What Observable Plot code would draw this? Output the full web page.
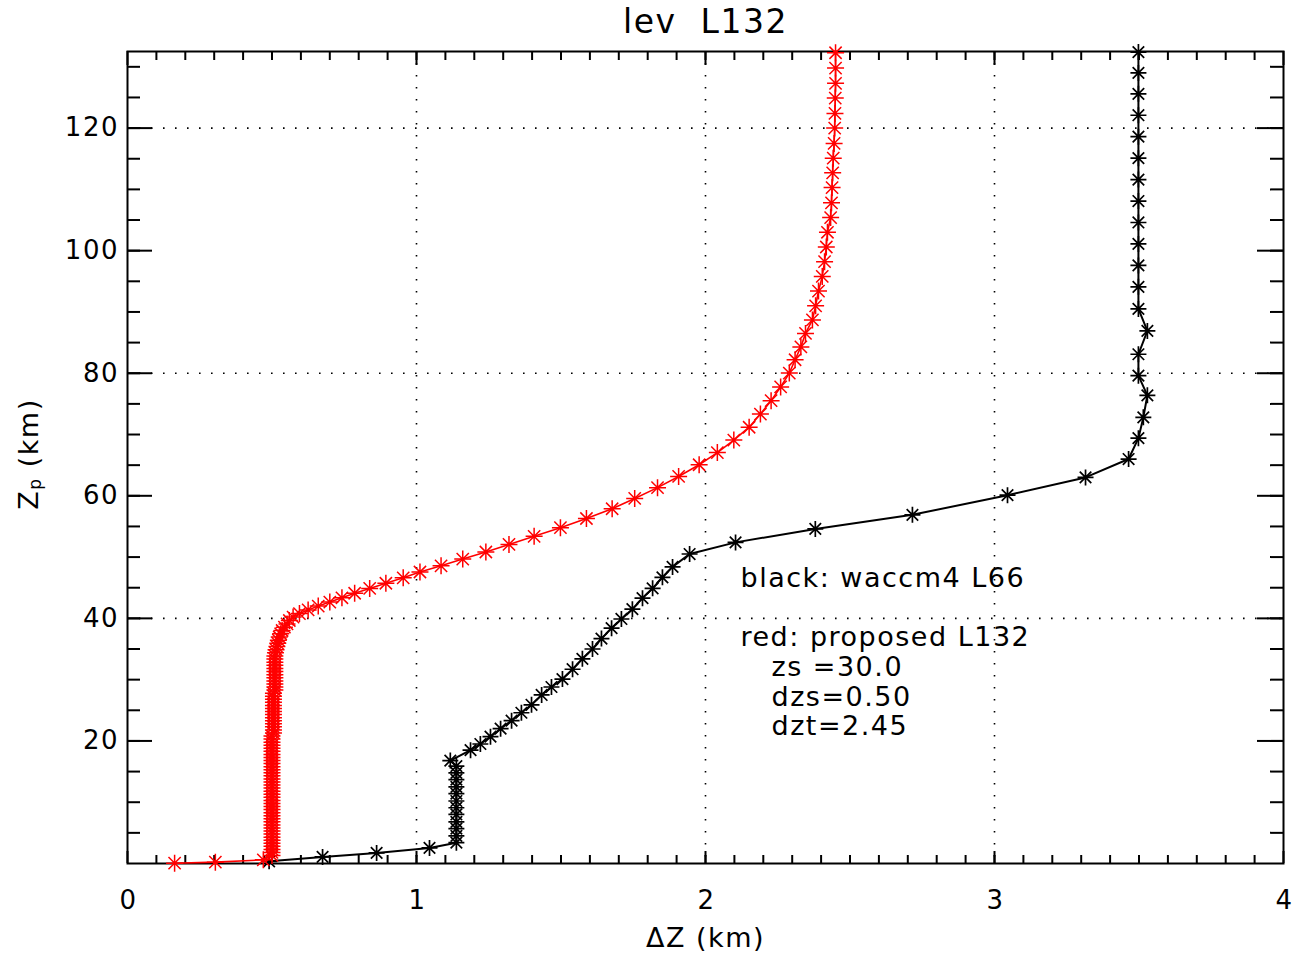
<!DOCTYPE html>
<html><head><meta charset="utf-8">
<script src="https://cdn.jsdelivr.net/npm/d3@7"></script>
<script src="https://cdn.jsdelivr.net/npm/@observablehq/plot@0.6"></script>
<style>body{margin:0;background:#fff}svg{display:block}</style>
</head><body><div id="chart"></div>
<script>
// ---- texts ----
const titleText = "lev  L132";
const xLabelText = "ΔZ (km)";
const yLabelMain = "Z";
const yLabelSub = "p";
const yLabelUnit = " (km)";
const noteLines = ["black: waccm4 L66", "red: proposed L132", "zs =30.0", "dzs=0.50", "dzt=2.45"];

// ---- ticks ----
const xTickLabels = [0, 1, 2, 3, 4];
const yTickLabels = [20, 40, 60, 80, 100, 120];
const xGridLines = [1, 2, 3];
const yGridLines = [40, 80, 120];
const yMajorTicks = [20, 40, 60, 80, 100, 120];

// ---- black: waccm4 L66 ----
const blackZ = [0.35, 1.08, 1.73, 2.54,
  3.4, 4.5, 5.7, 6.8, 8.0, 9.1, 10.2, 11.4, 12.5, 13.7, 14.8, 15.9,
  16.8,
  18.5, 19.5, 20.7, 22.0, 23.3, 24.6, 25.9, 27.5, 28.8, 30.1, 31.7, 33.4, 35.0, 36.7, 38.4, 39.9, 41.5, 43.3, 44.9, 46.7, 48.4, 50.5,
  52.4, 54.6, 56.9, 60.1, 63.0, 66.0, 69.4, 72.8, 76.4, 79.6, 83.1, 86.9, 90.5,
  94.1, 97.6, 101.1, 104.6, 108.1, 111.6, 115.1, 118.6, 122.1, 125.6, 129.0, 132.4];
const blackDZ = [0.49, 0.675, 0.862, 1.045,
  1.138, 1.138, 1.138, 1.138, 1.138, 1.138, 1.138, 1.138, 1.138, 1.138, 1.138, 1.138,
  1.117,
  1.187, 1.221, 1.256, 1.291, 1.329, 1.363, 1.398, 1.433, 1.467, 1.505, 1.540, 1.574, 1.609, 1.640, 1.675, 1.709, 1.747, 1.782, 1.817, 1.851, 1.886, 1.945,
  2.104, 2.380, 2.716, 3.045, 3.315, 3.464, 3.498, 3.515, 3.529, 3.498, 3.498, 3.529, 3.498,
  3.498, 3.498, 3.498, 3.498, 3.498, 3.498, 3.498, 3.498, 3.498, 3.498, 3.498, 3.498];

// ---- red: proposed L132 ----
const redZ = [0.05, 0.22, 0.6,
  1.3, 1.8, 2.3, 2.8, 3.3, 3.8, 4.3, 4.8, 5.3, 5.8, 6.3, 6.8, 7.3, 7.8, 8.3, 8.8, 9.3, 9.8, 10.3, 10.8,
  11.3, 11.8, 12.3, 12.8, 13.3, 13.8, 14.3, 14.8, 15.3, 15.8, 16.3, 16.8, 17.3, 17.8, 18.3, 18.8, 19.3, 19.8, 20.3, 20.8,
  21.3, 21.8, 22.3, 22.8, 23.3, 23.8, 24.3, 24.8, 25.3, 25.8, 26.3, 26.8, 27.3, 27.8,
  28.3, 28.8, 29.3, 29.8, 30.3,
  30.81, 31.32, 31.83, 32.34, 32.85, 33.36, 33.87, 34.38, 34.89, 35.40, 35.92, 36.44, 36.96, 37.49, 38.02,
  38.56, 39.10, 39.65, 40.21, 40.78, 41.38, 42.00, 42.66, 43.36, 44.10, 44.89, 45.73, 46.62, 47.57, 48.58,
  49.67, 50.83, 52.07, 53.39, 54.80, 56.30, 57.89, 59.57, 61.33, 63.16, 65.07, 67.05, 69.09, 71.19, 73.34,
  75.53, 77.76, 80.02, 82.2,
  84.3, 86.5, 88.7, 91.0, 93.4, 95.8, 98.2, 100.6, 103.0, 105.4, 107.8, 110.3, 112.7, 115.1, 117.5, 120.0,
  122.4, 124.9, 127.3, 129.8, 132.3];
const redDZ = [0.163, 0.304, 0.47,
  0.50, 0.50, 0.50, 0.50, 0.50, 0.50, 0.50, 0.50, 0.50, 0.50, 0.50, 0.50, 0.50, 0.50, 0.50, 0.50, 0.50, 0.50, 0.50, 0.50,
  0.50, 0.50, 0.50, 0.50, 0.50, 0.50, 0.50, 0.50, 0.50, 0.50, 0.50, 0.50, 0.50, 0.50, 0.50, 0.50, 0.50, 0.50, 0.50, 0.50,
  0.505, 0.505, 0.505, 0.505, 0.505, 0.505, 0.505, 0.505, 0.505, 0.505, 0.505, 0.505, 0.505, 0.505,
  0.51, 0.51, 0.51, 0.51, 0.51,
  0.51, 0.51, 0.51, 0.51, 0.51, 0.51, 0.51, 0.512, 0.514, 0.517, 0.52, 0.522, 0.525, 0.53, 0.535,
  0.543, 0.552, 0.56, 0.573, 0.595, 0.625, 0.66, 0.70, 0.742, 0.786, 0.838, 0.894, 0.954, 1.012, 1.085,
  1.16, 1.24, 1.32, 1.407, 1.498, 1.588, 1.677, 1.755, 1.834, 1.907, 1.978, 2.041, 2.098, 2.151, 2.19,
  2.227, 2.26, 2.29, 2.31,
  2.33, 2.346, 2.37, 2.381, 2.391, 2.404, 2.412, 2.418, 2.422, 2.433, 2.436, 2.438, 2.44, 2.442, 2.445, 2.447,
  2.448, 2.449, 2.45, 2.45, 2.45];

// ---- layout ----
const W = 1293, H = 958;
const mL = 127, mR = 10, mT = 51, mB = 95;
const pw = W - mL - mR, ph = H - mT - mB;
const FONT = "DejaVu Sans";
const FS = 26;   // tick labels
const NFS = 27;  // notes & axis titles

const black = blackZ.map((z, i) => ({z, dz: blackDZ[i]}));
const red = redZ.map((z, i) => ({z, dz: redDZ[i]}));
const xMinor = d3.range(1, 40).map(i => i / 10);
const yMinor = d3.range(1, 27).map(i => i * 5);

const star = {
  draw(ctx, size) {
    const r = Math.sqrt(size / Math.PI);
    const d = r * 0.72;
    ctx.moveTo(-r, 0); ctx.lineTo(r, 0);
    ctx.moveTo(0, -r); ctx.lineTo(0, r);
    ctx.moveTo(-d, -d); ctx.lineTo(d, d);
    ctx.moveTo(-d, d); ctx.lineTo(d, -d);
  }
};

const dotted = {stroke: "black", strokeWidth: 1.6, strokeDasharray: "1.6,10.4"};
const tk = {stroke: "black", strokeWidth: 2};
const note = (i, dx, dy) => Plot.text([noteLines[i]], {text: d => d, frameAnchor: "top-left", dx, dy, textAnchor: "start", lineAnchor: "middle", fill: "black", fontSize: NFS, ariaLabel: "note"});

const svg = Plot.plot({
  width: W, height: H,
  marginLeft: mL, marginRight: mR, marginTop: mT, marginBottom: mB,
  x: {domain: [0, 4], axis: null},
  y: {domain: [0, 132.5], axis: null},
  style: {fontFamily: FONT, fontSize: FS + "px", background: "white", color: "black", letterSpacing: "1.5px"},
  marks: [
    Plot.ruleX(xGridLines, {x: d => d, ...dotted}),
    Plot.ruleY(yGridLines, {y: d => d, ...dotted}),
    // x ticks bottom & top
    Plot.ruleX(xTickLabels, {x: d => d, insetTop: ph - 12, ...tk}),
    Plot.ruleX(xTickLabels, {x: d => d, insetBottom: ph - 14, ...tk}),
    Plot.ruleX(xMinor, {x: d => d, insetTop: ph - 8, ...tk}),
    Plot.ruleX(xMinor, {x: d => d, insetBottom: ph - 9, ...tk}),
    // y ticks left & right
    Plot.ruleY(yMajorTicks, {y: d => d, insetRight: pw - 25, ...tk}),
    Plot.ruleY(yMajorTicks, {y: d => d, insetLeft: pw - 26, ...tk}),
    Plot.ruleY(yMinor, {y: d => d, insetRight: pw - 13, ...tk}),
    Plot.ruleY(yMinor, {y: d => d, insetLeft: pw - 13, ...tk}),
    Plot.frame({stroke: "black", strokeWidth: 2}),
    // series
    Plot.line(black, {x: "dz", y: "z", stroke: "black", strokeWidth: 2}),
    Plot.dot(black, {x: "dz", y: "z", symbol: star, r: 8, stroke: "black", fill: "none", strokeWidth: 1.7}),
    Plot.line(red, {x: "dz", y: "z", stroke: "#ff0000", strokeWidth: 1.6}),
    Plot.dot(red, {x: "dz", y: "z", symbol: star, r: 8.5, stroke: "#ff0000", fill: "none", strokeWidth: 1.5}),
    // tick labels
    Plot.text(xTickLabels, {x: d => d, text: d => String(d), frameAnchor: "bottom", lineAnchor: "middle", dy: 37, dx: 1, fill: "black", fontSize: FS}),
    Plot.text(yTickLabels, {y: d => d, text: d => String(d), frameAnchor: "left", lineAnchor: "middle", dx: -8.5, textAnchor: "end", fill: "black", fontSize: FS}),
    // title & x label
    Plot.text([titleText], {text: d => d, frameAnchor: "top", lineAnchor: "middle", dy: -29, fill: "black", fontSize: 33, ariaLabel: "title"}),
    Plot.text([xLabelText], {text: d => d, frameAnchor: "bottom", lineAnchor: "middle", dy: 75, fill: "black", fontSize: NFS}),
    // annotations
    note(0, 613, 527),
    note(1, 613, 586),
    note(2, 644, 616),
    note(3, 644, 646),
    note(4, 644, 675)
  ]
});

d3.select(svg).selectAll('g[aria-label="title"] text').style("letter-spacing", "0px");
d3.select(svg).selectAll('g[aria-label="note"] text').style("letter-spacing", "1.6px");

// y-axis label with subscript
const yl = d3.select(svg).append("text")
  .attr("transform", `translate(30,${mT + ph / 2 - 3}) rotate(-90)`)
  .attr("text-anchor", "middle")
  .attr("dominant-baseline", "middle")
  .attr("font-family", FONT)
  .attr("font-size", NFS)
  .attr("fill", "black");
yl.append("tspan").text(yLabelMain);
yl.append("tspan").attr("font-size", 17).attr("dy", 6).text(yLabelSub);
yl.append("tspan").attr("dy", -6).text(yLabelUnit);

document.getElementById("chart").appendChild(svg);
</script>
</body></html>
